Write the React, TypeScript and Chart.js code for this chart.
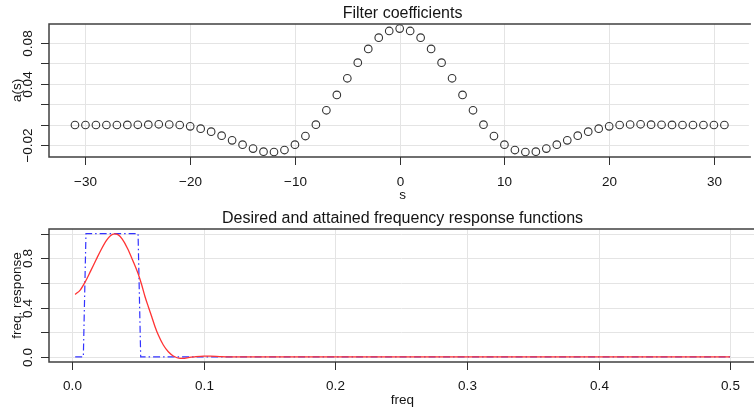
import React, { useEffect, useRef } from "react";
import { Chart, registerables } from "chart.js";

Chart.register(...registerables);

// ---- Data ----
const lags: number[] = [
  -31, -30, -29, -28, -27, -26, -25, -24, -23, -22, -21, -20, -19, -18, -17, -16,
  -15, -14, -13, -12, -11, -10, -9, -8, -7, -6, -5, -4, -3, -2, -1, 0,
  1, 2, 3, 4, 5, 6, 7, 8, 9, 10, 11, 12, 13, 14, 15, 16,
  17, 18, 19, 20, 21, 22, 23, 24, 25, 26, 27, 28, 29, 30, 31,
];
const coefficients: number[] = [
  -0.0002, -0.0002, -0.0002, -0.0002, -0.0002, -0.0001, 0.0, 0.0001, 0.0005, 0.0003, -0.0002, -0.0015, -0.0038, -0.0067, -0.0106, -0.0152,
  -0.0194, -0.0233, -0.0263, -0.0266, -0.0247, -0.0194, -0.011, 0.0001, 0.0142, 0.0292, 0.0455, 0.0608, 0.0742, 0.0852, 0.0918, 0.0941,
  0.0918, 0.0852, 0.0742, 0.0608, 0.0455, 0.0292, 0.0142, 0.0001, -0.011, -0.0194, -0.0247, -0.0266, -0.0263, -0.0233, -0.0194, -0.0152,
  -0.0106, -0.0067, -0.0038, -0.0015, -0.0002, 0.0003, 0.0005, 0.0001, 0.0, -0.0001, -0.0002, -0.0002, -0.0002, -0.0002, -0.0002,
];

const attainedFreq: number[] = [
  0.0022, 0.006, 0.01, 0.014, 0.018, 0.022, 0.026, 0.029, 0.032, 0.035, 0.038, 0.042, 0.046, 0.0504, 0.0528,
  0.0553, 0.0578, 0.0604, 0.0629, 0.0654, 0.0692, 0.073, 0.0768, 0.0819, 0.0855, 0.0882, 0.093, 0.1, 0.105,
  0.112, 0.12, 0.5,
];
const attainedResp: number[] = [
  0.507, 0.542, 0.612, 0.698, 0.786, 0.872, 0.946, 0.984, 0.998, 0.99, 0.955, 0.88, 0.782, 0.664, 0.583,
  0.488, 0.407, 0.326, 0.245, 0.177, 0.096, 0.041, 0.007, -0.012, -0.012, -0.006, 0.0, 0.005, 0.005,
  0.002, 0.0, 0.0,
];
const desiredFreq: number[] = [0.0022, 0.0084, 0.0104, 0.05, 0.052, 0.5];
const desiredResp: number[] = [0, 0, 1, 1, 0, 0];

const topXTicks: number[] = [-30, -20, -10, 0, 10, 20, 30];
const topYTicks: number[] = [-0.02, 0, 0.02, 0.04, 0.06, 0.08];
const topYLabels: Record<string, string> = { "-0.02": "\u22120.02", "0.04": "0.04", "0.08": "0.08" };
const botXTicks: number[] = [0, 0.1, 0.2, 0.3, 0.4, 0.5];
const botYTicks: number[] = [0, 0.2, 0.4, 0.6, 0.8, 1.0];
const botYLabels: Record<string, string> = { "0": "0.0", "0.4": "0.4", "0.8": "0.8" };

const FONT = '"Liberation Sans", Arial, Helvetica, sans-serif';
const TICK_FONT = `13.5px ${FONT}`;
const TITLE_FONT = `16px ${FONT}`;

function fmtX(v: number, dec: number): string {
  const s = Math.abs(v).toFixed(dec);
  return v < 0 ? "\u2212" + s : s;
}

function makeDecor(cfg: {
  xTicks: number[];
  yTicks: number[];
  xLabel: (v: number) => string;
  yLabels: Record<string, string>;
  title: string;
  titleY: number;
  xTitle: string;
  xTitleY: number;
  yTitle: string;
  xTickLabelY: number;
}) {
  return {
    id: "rdecor",
    beforeDatasetsDraw(chart: any) {
      const { ctx, chartArea } = chart;
      const xs = chart.scales.x;
      const ys = chart.scales.y;
      ctx.save();
      ctx.strokeStyle = "#e4e4e4";
      ctx.lineWidth = 1;
      for (const v of cfg.xTicks) {
        const px = Math.round(xs.getPixelForValue(v)) + 0.5;
        ctx.beginPath();
        ctx.moveTo(px, chartArea.top);
        ctx.lineTo(px, chartArea.bottom);
        ctx.stroke();
      }
      for (const v of cfg.yTicks) {
        const py = Math.round(ys.getPixelForValue(v)) + 0.5;
        ctx.beginPath();
        ctx.moveTo(chartArea.left, py);
        ctx.lineTo(chartArea.right, py);
        ctx.stroke();
      }
      ctx.restore();
    },
    afterDraw(chart: any) {
      const { ctx, chartArea } = chart;
      const xs = chart.scales.x;
      const ys = chart.scales.y;
      ctx.save();
      // frame
      ctx.strokeStyle = "#404040";
      ctx.lineWidth = 1.5;
      ctx.beginPath();
      ctx.moveTo(chartArea.right + 2, chartArea.top);
      ctx.lineTo(chartArea.left, chartArea.top);
      ctx.lineTo(chartArea.left, chartArea.bottom);
      ctx.lineTo(chartArea.right + 2, chartArea.bottom);
      ctx.stroke();
      // ticks
      ctx.strokeStyle = "#303030";
      ctx.lineWidth = 1;
      ctx.fillStyle = "#141414";
      ctx.font = TICK_FONT;
      ctx.textAlign = "center";
      ctx.textBaseline = "middle";
      for (const v of cfg.xTicks) {
        const px = Math.round(xs.getPixelForValue(v)) + 0.5;
        ctx.beginPath();
        ctx.moveTo(px, chartArea.bottom);
        ctx.lineTo(px, chartArea.bottom + 8);
        ctx.stroke();
        ctx.fillText(cfg.xLabel(v), px, cfg.xTickLabelY);
      }
      for (const v of cfg.yTicks) {
        const py = Math.round(ys.getPixelForValue(v)) + 0.5;
        ctx.beginPath();
        ctx.moveTo(chartArea.left, py);
        ctx.lineTo(chartArea.left - 8, py);
        ctx.stroke();
        const key = String(Math.round(v * 100) / 100);
        const lab = cfg.yLabels[key];
        if (lab) {
          ctx.save();
          ctx.translate(28, py);
          ctx.rotate(-Math.PI / 2);
          ctx.fillText(lab, 0, 0);
          ctx.restore();
        }
      }
      // axis titles
      const cx = (chartArea.left + 756) / 2;
      ctx.fillText(cfg.xTitle, cx, cfg.xTitleY);
      ctx.save();
      ctx.translate(17, (chartArea.top + chartArea.bottom) / 2);
      ctx.rotate(-Math.PI / 2);
      ctx.fillText(cfg.yTitle, 0, 0);
      ctx.restore();
      // main title
      ctx.font = TITLE_FONT;
      ctx.fillText(cfg.title, cx, cfg.titleY);
      ctx.restore();
    },
  };
}

function hiddenScale(min: number, max: number, horizontal: boolean) {
  return {
    type: "linear" as const,
    min,
    max,
    grid: { display: false, drawTicks: false },
    border: { display: false },
    ticks: { display: false },
    afterFit: (s: any) => {
      if (horizontal) s.height = 0;
      else s.width = 0;
    },
  };
}

export default function App() {
  const topRef = useRef<HTMLCanvasElement>(null);
  const botRef = useRef<HTMLCanvasElement>(null);

  useEffect(() => {
    document.body.style.margin = "0";
    const top = new Chart(topRef.current as HTMLCanvasElement, {
      type: "scatter",
      data: {
        datasets: [
          {
            data: lags.map((s, i) => ({ x: s, y: coefficients[i] })),
            showLine: false,
            pointRadius: 3.8,
            pointBorderWidth: 1.1,
            pointBorderColor: "#333333",
            pointBackgroundColor: "rgba(0,0,0,0)",
          },
        ],
      },
      options: {
        responsive: false,
        animation: false,
        events: [],
        layout: { padding: { left: 49, top: 24, right: 0, bottom: 46 } },
        plugins: { legend: { display: false }, tooltip: { enabled: false } },
        scales: {
          x: hiddenScale(-33.48, 33.34, true),
          y: hiddenScale(-0.0315, 0.0986, false),
        },
      } as any,
      plugins: [
        makeDecor({
          xTicks: topXTicks,
          yTicks: topYTicks,
          xLabel: (v) => fmtX(v, 0),
          yLabels: topYLabels,
          title: "Filter coefficients",
          titleY: 14,
          xTitle: "s",
          xTitleY: 195,
          yTitle: "a(s)",
          xTickLabelY: 182.5,
        }),
      ],
    });

    const bot = new Chart(botRef.current as HTMLCanvasElement, {
      type: "scatter",
      data: {
        datasets: [
          {
            data: attainedFreq.map((f, i) => ({ x: f, y: attainedResp[i] })),
            showLine: true,
            pointRadius: 0,
            borderColor: "#ff3333",
            borderWidth: 1.3,
            cubicInterpolationMode: "monotone",
          },
          {
            data: desiredFreq.map((f, i) => ({ x: f, y: desiredResp[i] })),
            showLine: true,
            pointRadius: 0,
            borderColor: "#3333ff",
            borderWidth: 1.2,
            borderDash: [7, 3, 1.5, 3],
            tension: 0,
          },
        ],
      },
      options: {
        responsive: false,
        animation: false,
        events: [],
        layout: { padding: { left: 49, top: 26, right: 0, bottom: 45 } },
        plugins: { legend: { display: false }, tooltip: { enabled: false } },
        scales: {
          x: hiddenScale(-0.0177, 0.5182, true),
          y: hiddenScale(-0.042, 1.038, false),
        },
      } as any,
      plugins: [
        makeDecor({
          xTicks: botXTicks,
          yTicks: botYTicks,
          xLabel: (v) => v.toFixed(1),
          yLabels: botYLabels,
          title: "Desired and attained frequency response functions",
          titleY: 16,
          xTitle: "freq",
          xTitleY: 197,
          yTitle: "freq. response",
          xTickLabelY: 183.5,
        }),
      ],
    });

    return () => {
      top.destroy();
      bot.destroy();
    };
  }, []);

  return (
    <div style={{ position: "fixed", left: 0, top: 0, width: 754, height: 407, background: "#fff", overflow: "hidden" }}>
      <canvas ref={topRef} width={754} height={203} style={{ position: "absolute", left: 0, top: 0, width: 754, height: 203 }} />
      <canvas ref={botRef} width={754} height={204} style={{ position: "absolute", left: 0, top: 203, width: 754, height: 204 }} />
    </div>
  );
}
